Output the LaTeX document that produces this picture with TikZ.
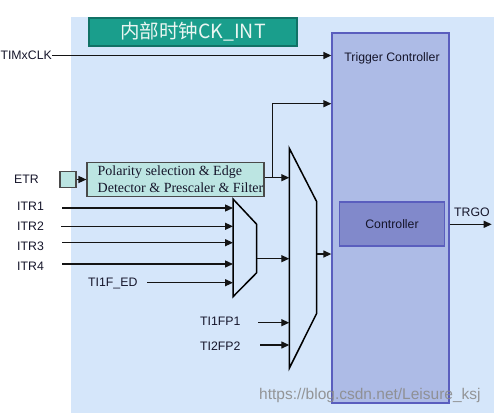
\documentclass[tikz,border=0pt]{standalone}
\usepackage{fontspec}
\setmainfont{Liberation Sans}
\newfontfamily\cjkfont{Noto Sans CJK SC}
\newfontfamily\serifbox{Liberation Serif}
\usetikzlibrary{arrows.meta}
\definecolor{bgblue}{HTML}{D5E6FA}
\definecolor{clkfill}{HTML}{1A9E8C}
\definecolor{clkborder}{HTML}{117266}
\definecolor{clktext}{HTML}{EAF6F2}
\definecolor{tcfill}{HTML}{ADBBE6}
\definecolor{tcborder}{HTML}{5A5EBE}
\definecolor{ctrlfill}{HTML}{8189CB}
\definecolor{polfill}{HTML}{BCE5E2}
\definecolor{boxgrey}{HTML}{4A4A4A}
\definecolor{wmgrey}{HTML}{8C8C8C}
\definecolor{lbltext}{HTML}{15152A}
\begin{document}
\begin{tikzpicture}[x=1pt,y=-1pt,
  lbl/.style={font=\fontsize{12.3}{14}\selectfont, text=lbltext, inner sep=0pt},
  arr/.style={-{Triangle[length=8pt,width=7pt]}, line width=1.3pt, draw=black!92},
  muxshape/.style={draw=black, line width=1.5pt},
  blockbox/.style={draw, inner sep=0pt}]
\useasboundingbox (0,0) rectangle (494,413);
\fill[bgblue] (71,17) rectangle (494,413);

% internal clock banner
\node[blockbox, draw=clkborder, fill=clkfill, line width=2.5pt,
      minimum width=208pt, minimum height=28pt,
      font=\cjkfont\fontsize{19.5}{22}\selectfont, text=clktext] (clk) at (193,32) {内部时钟CK\_INT};

% trigger controller
\node[blockbox, draw=tcborder, fill=tcfill, line width=1.3pt,
      minimum width=117pt, minimum height=370pt] (tc) at (390.5,218) {};
\node[lbl] (tctext) at (392,58) {Trigger Controller};
\node[blockbox, draw=tcborder, fill=ctrlfill, line width=1.3pt,
      minimum width=105pt, minimum height=44pt, font=\fontsize{12.3}{14}\selectfont, text=lbltext] (ctrl) at (392,224) {Controller};

% TIMxCLK
\node[lbl, anchor=east] (timx) at (52,55.5) {TIMxCLK};
\draw[arr] (timx.east) -- (timx.east -| tc.west);

% ETR path
\node[lbl, anchor=west] (etr) at (14,179) {ETR};
\node[blockbox, draw=boxgrey, fill=polfill, line width=1.1pt,
      minimum width=16pt, minimum height=16pt] (etrsq) at (68,179.5) {};
\node[blockbox, draw=boxgrey, fill=polfill, line width=1.1pt,
      minimum width=177pt, minimum height=34pt] (pol) at (175.5,179.2) {};
\node[inner sep=0pt, anchor=west, align=left, font=\serifbox\fontsize{14}{16.6}\selectfont, text=lbltext]
      (poltext) at (97.5,179.5) {Polarity selection \& Edge\\Detector \& Prescaler \& Filter};
\draw[arr] (etrsq.east) -- (pol.west |- etrsq.east);

% multiplexers
\coordinate (m1tl) at (233,199);
\coordinate (m1tr) at (256.7,224.3);
\coordinate (m1br) at (256.7,272.7);
\coordinate (m1bl) at (233,296.7);
\draw[muxshape] (m1tl) -- (m1tr) -- (m1br) -- (m1bl) -- cycle;
\coordinate (m2tl) at (289.3,148.3);
\coordinate (m2tr) at (316.7,201.7);
\coordinate (m2br) at (316.7,313.3);
\coordinate (m2bl) at (289.3,368.3);
\draw[muxshape] (m2tl) -- (m2tr) -- (m2br) -- (m2bl) -- cycle;

% ITR inputs
\node[lbl, anchor=west] (itr1) at (17,206) {ITR1};
\node[lbl, anchor=west] (itr2) at (17,226.5) {ITR2};
\node[lbl, anchor=west] (itr3) at (17,246) {ITR3};
\node[lbl, anchor=west] (itr4) at (17,266.5) {ITR4};
\node[lbl, anchor=west] (ti1fed) at (88,283.5) {TI1F\_ED};
\coordinate (s1) at (62,208);
\coordinate (s2) at (61,226.3);
\coordinate (s3) at (62,242.7);
\coordinate (s4) at (62,264);
\coordinate (s5) at (147,282.7);
\foreach \s in {s1,s2,s3,s4,s5} \draw[arr] (\s) -- (\s -| m1tl);

% polarity output to mux2 and trigger controller
\coordinate (br) at (272.7,177.7);
\draw[arr] (pol.east |- br) -- (br -| m2tl);
\coordinate (up) at (272.7,103.7);
\draw[arr] (br) -- (up) -- (up -| tc.west);

% mux1 -> mux2
\coordinate (m1o) at (256.7,258.7);
\draw[arr] (m1o) -- (m1o -| m2tl);

% TI1FP1, TI2FP2
\node[lbl, anchor=west] (tifp1) at (200,321.7) {TI1FP1};
\node[lbl, anchor=west] (tifp2) at (200,346.5) {TI2FP2};
\coordinate (f1) at (258.3,322.7);
\coordinate (f2) at (260,345);
\draw[arr] (f1) -- (f1 -| m2tl);
\draw[arr] (f2) -- (f2 -| m2tl);

% mux2 -> trigger controller
\coordinate (m2o) at (316.7,254);
\draw[arr] (m2o) -- (m2o -| tc.west);

% TRGO
\node[lbl, anchor=west] (trgo) at (454,212.7) {TRGO};
\coordinate (trgoend) at (491.7,224.3);
\draw[arr] (tc.east |- trgoend) -- (trgoend);

% watermark
\node[inner sep=0pt, anchor=west, font=\fontsize{15.5}{18}\selectfont, text=wmgrey, opacity=0.9] (wm) at (259,395) {https://blog.csdn.net/Leisure\_ksj};
\end{tikzpicture}
\end{document}
